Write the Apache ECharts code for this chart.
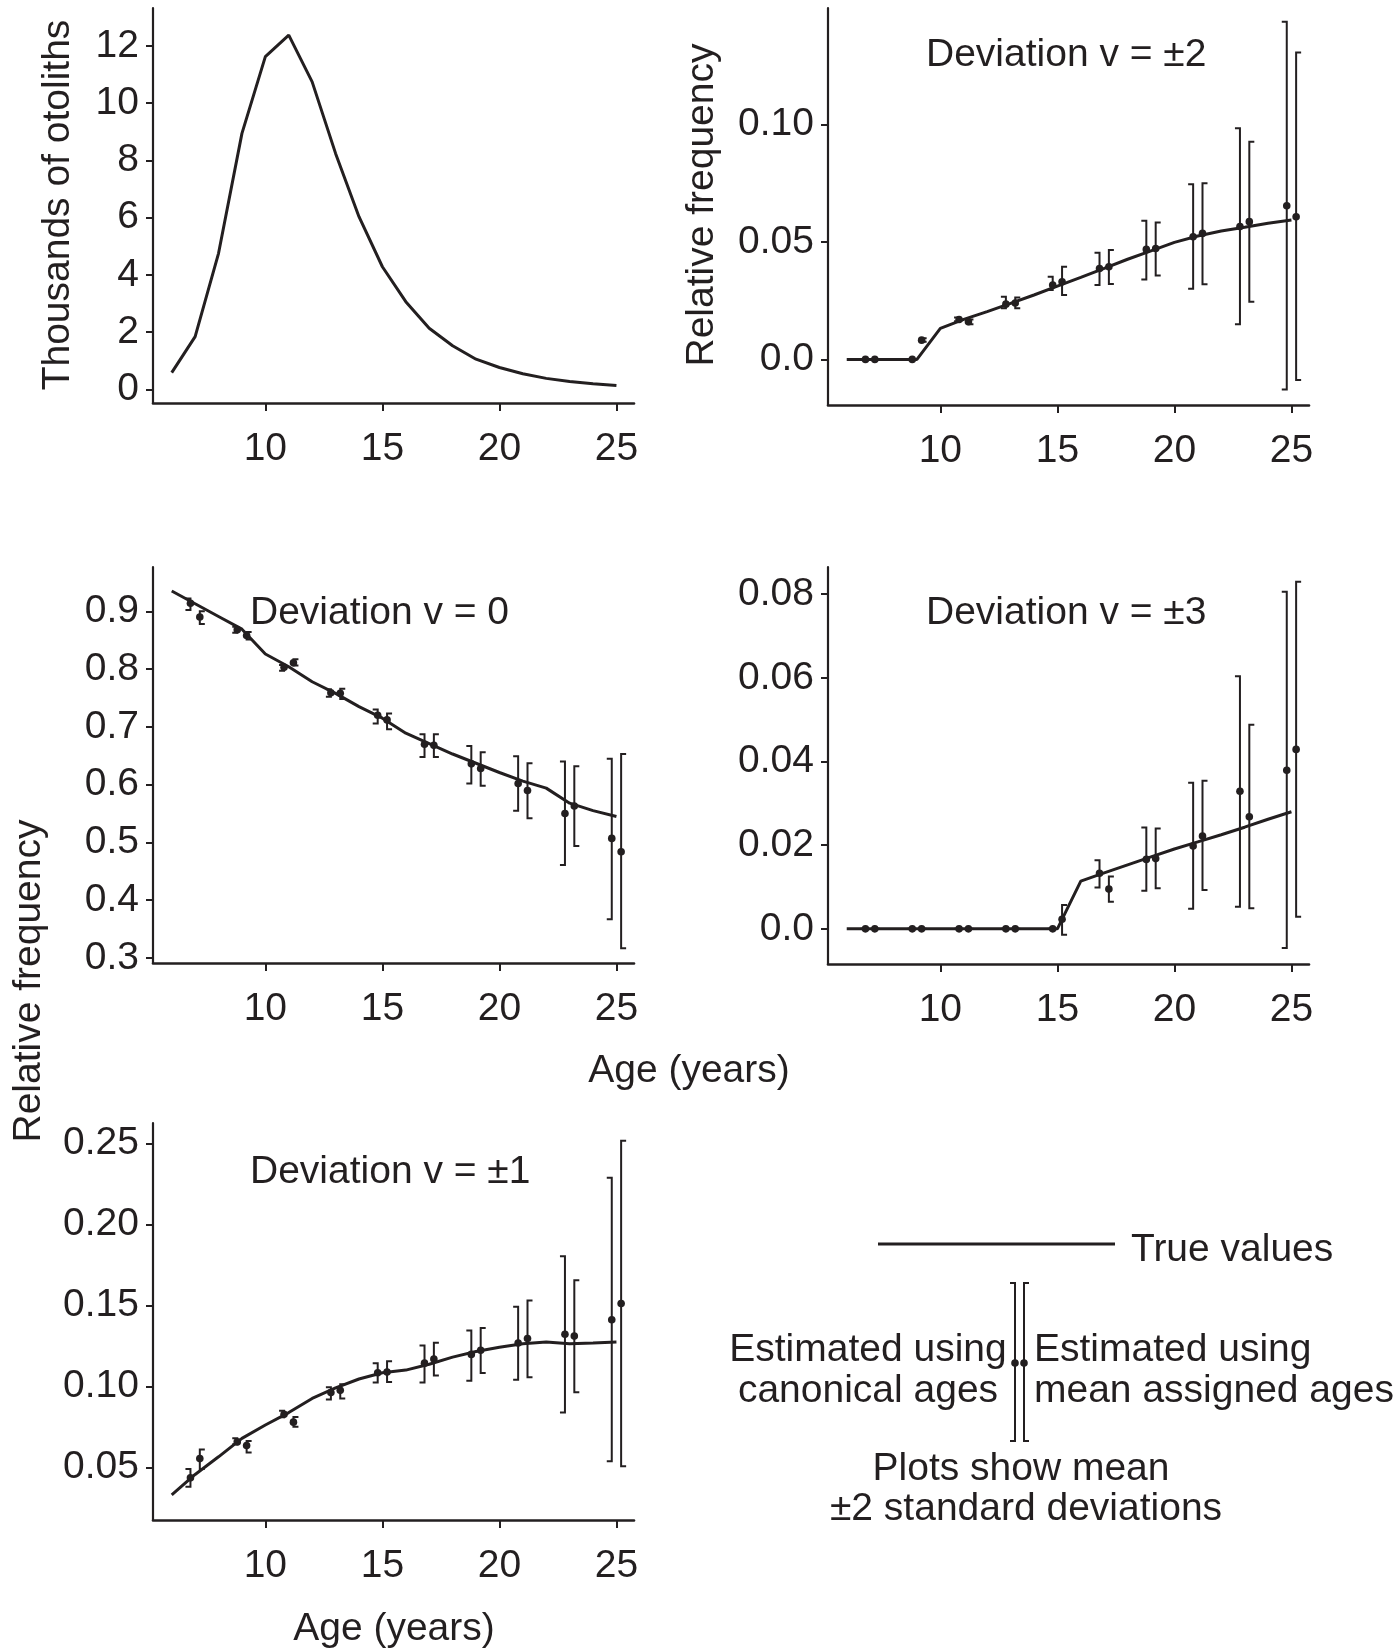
<!DOCTYPE html>
<html><head><meta charset="utf-8">
<script src="https://cdn.jsdelivr.net/npm/echarts@6/dist/echarts.min.js"></script>
<style>html,body{margin:0;padding:0;background:#fff}#c{width:1398px;height:1650px}</style>
</head><body><div id="c"></div>
<script>
// ---------- data ----------
const ages = [6,7,8,9,10,11,12,13,14,15,16,17,18,19,20,21,22,23,24,25];
const otoliths = [0.58,1.84,4.75,8.94,11.62,12.37,10.74,8.24,6.03,4.28,3.06,2.13,1.52,1.05,0.76,0.54,0.38,0.27,0.19,0.13];
const trueV2 = [0,0,0,0,0.0132,0.017,0.0203,0.0238,0.0274,0.0312,0.0349,0.0387,0.0426,0.0462,0.0498,0.0525,0.0546,0.0562,0.0579,0.0593];
const trueV0 = [0.935,0.913,0.891,0.869,0.826,0.804,0.778,0.758,0.735,0.715,0.689,0.671,0.653,0.637,0.621,0.606,0.594,0.568,0.555,0.545];
const trueV3 = [0,0,0,0,0,0,0,0,0,0,0.0114,0.0134,0.0153,0.0172,0.0191,0.0208,0.0225,0.0243,0.0262,0.028];
const trueV1 = [0.033,0.0456,0.0565,0.0679,0.0761,0.0838,0.0925,0.099,0.1045,0.1084,0.11,0.1136,0.118,0.1215,0.1241,0.1263,0.1273,0.1263,0.1267,0.1273];

const estAges = [7,9,11,13,15,17,19,21,23,25];
// v = ±2
const c2Mean = [0,0,0.017,0.0235,0.0316,0.0387,0.0468,0.0522,0.0565,0.0654];
const c2Low  = [0,0,0.0162,0.0218,0.0295,0.0316,0.034,0.0301,0.015,-0.0128];
const c2High = [0,0,0.0178,0.0267,0.0352,0.0454,0.059,0.0745,0.0983,0.1437];
const a2Mean = [0,0.0082,0.016,0.024,0.033,0.0394,0.0472,0.0536,0.0586,0.0607];
const a2Low  = [0,0.0075,0.015,0.0218,0.0274,0.0321,0.0357,0.032,0.0245,-0.0088];
const a2High = [0,0.009,0.017,0.0263,0.0394,0.0465,0.0582,0.0749,0.0926,0.1306];
// v = 0
const c0Mean = [0.914,0.868,0.803,0.759,0.72,0.67,0.636,0.602,0.55,0.507];
const c0Low  = [0.902,0.863,0.797,0.752,0.706,0.648,0.602,0.555,0.461,0.367];
const c0High = [0.922,0.873,0.807,0.765,0.73,0.687,0.667,0.649,0.64,0.645];
const a0Mean = [0.89,0.858,0.811,0.758,0.712,0.668,0.628,0.59,0.563,0.484];
const a0Low  = [0.878,0.851,0.806,0.748,0.696,0.648,0.598,0.542,0.494,0.317];
const a0High = [0.9,0.864,0.817,0.766,0.723,0.687,0.656,0.637,0.632,0.653];
// v = ±3
const c3Mean = [0,0,0,0,0,0.0133,0.0166,0.0198,0.0329,0.0379];
const c3Low  = [0,0,0,0,0,0.0099,0.0091,0.0048,0.0053,-0.0046];
const c3High = [0,0,0,0,0,0.0164,0.0242,0.0349,0.0604,0.0806];
const a3Mean = [0,0,0,0,0.0023,0.0095,0.0168,0.0222,0.0268,0.0429];
const a3Low  = [0,0,0,0,-0.0014,0.0065,0.0097,0.0093,0.0049,0.0029];
const a3High = [0,0,0,0,0.0057,0.0125,0.024,0.0354,0.0488,0.083];
// v = ±1
const c1Mean = [0.0435,0.0657,0.0827,0.0962,0.1084,0.1143,0.1197,0.1267,0.1321,0.1411];
const c1Low  = [0.038,0.0642,0.0809,0.0918,0.1023,0.1023,0.1034,0.104,0.0838,0.0537];
const c1High = [0.049,0.0679,0.0849,0.0995,0.1143,0.1252,0.1345,0.1491,0.1803,0.2287];
const a1Mean = [0.0554,0.0635,0.0779,0.0975,0.1088,0.1169,0.1223,0.1295,0.131,0.1511];
const a1Low  = [0.049,0.0592,0.075,0.0925,0.1027,0.1066,0.1082,0.1056,0.0964,0.0507];
const a1High = [0.061,0.0663,0.081,0.1012,0.1154,0.1269,0.136,0.153,0.1655,0.2515];

const xTicks = [10,15,20,25];
const yTicks1 = [0,2,4,6,8,10,12];      const yLabels1 = ['0','2','4','6','8','10','12'];
const yTicks2 = [0,0.05,0.10];          const yLabels2 = ['0.0','0.05','0.10'];
const yTicks0 = [0.3,0.4,0.5,0.6,0.7,0.8,0.9]; const yLabels0 = ['0.3','0.4','0.5','0.6','0.7','0.8','0.9'];
const yTicks3 = [0,0.02,0.04,0.06,0.08]; const yLabels3 = ['0.0','0.02','0.04','0.06','0.08'];
const yTicks5 = [0.05,0.10,0.15,0.20,0.25]; const yLabels5 = ['0.05','0.10','0.15','0.20','0.25'];

// ---------- style ----------
const C = '#231f20';
const F = '"Liberation Sans", Arial, Helvetica, sans-serif';
const FS = 39;
const OFF = 0.2;   // horizontal offset of the two estimates around each age
const SERIF = 5;

const grids = [
  {left:153, top:8,    width:481, height:395},
  {left:828, top:8,    width:481, height:397},
  {left:153, top:567,  width:481, height:396},
  {left:828, top:567,  width:481, height:397},
  {left:153, top:1123, width:481, height:397}
];
const yRanges = [[-0.48,13.32],[-0.0194,0.1495],[0.2914,0.9766],[-0.0084,0.0865],[0.0175,0.2625]];
const yT = [yTicks1,yTicks2,yTicks0,yTicks3,yTicks5];
const yL = [yLabels1,yLabels2,yLabels0,yLabels3,yLabels5];

const xAxes = grids.map((g,i)=>({
  gridIndex:i, type:'value', min:5.2, max:25.75,
  axisLine:{show:true,onZero:false,lineStyle:{color:C,width:2.6}},
  axisTick:{show:true,customValues:xTicks,length:8,lineStyle:{color:C,width:2}},
  axisLabel:{customValues:xTicks,fontSize:FS,color:C,fontFamily:F,margin:27},
  splitLine:{show:false}
}));
const yAxes = grids.map((g,i)=>({
  gridIndex:i, type:'value', min:yRanges[i][0], max:yRanges[i][1],
  axisLine:{show:true,onZero:false,lineStyle:{color:C,width:2.2}},
  axisTick:{show:true,customValues:yT[i],length:7,lineStyle:{color:C,width:2}},
  axisLabel:{customValues:yT[i],fontSize:FS,color:C,fontFamily:F,margin:14,
    formatter:(v)=>{const k=yT[i].findIndex(t=>Math.abs(t-v)<1e-9);return k>=0?yL[i][k]:'';}},
  splitLine:{show:false}
}));

function lineSeries(idx, vals){
  return {type:'line', xAxisIndex:idx, yAxisIndex:idx, symbol:'none', silent:true,
    data: ages.map((a,i)=>[a, vals[i]]), lineStyle:{color:C,width:3}, z:3};
}
function barData(mean,low,high,side){
  return estAges.map((a,i)=>[a, mean[i], low[i], high[i], side]);
}
function renderBar(params, api){
  const side = api.value(4);
  const x = api.value(0) + side*OFF;
  const pm = api.coord([x, api.value(1)]);
  const pl = api.coord([x, api.value(2)]);
  const ph = api.coord([x, api.value(3)]);
  const s = side; // -1: ']' serifs to the left, +1: '[' serifs to the right
  return {type:'group', children:[
    {type:'polyline', shape:{points:[[pl[0]+s*SERIF,ph[1]],[pl[0],ph[1]],[pl[0],pl[1]],[pl[0]+s*SERIF,pl[1]]]},
     style:{stroke:C,lineWidth:2,fill:null}},
    {type:'circle', shape:{cx:pm[0],cy:pm[1],r:3.8}, style:{fill:C}}
  ]};
}
function barSeries(idx, data){
  return {type:'custom', xAxisIndex:idx, yAxisIndex:idx, renderItem:renderBar, data:data,
    encode:{x:0,y:[1,2,3]}, clip:false, silent:true, z:4};
}

const series = [
  lineSeries(0, otoliths),
  lineSeries(1, trueV2), barSeries(1, barData(c2Mean,c2Low,c2High,-1)), barSeries(1, barData(a2Mean,a2Low,a2High,1)),
  lineSeries(2, trueV0), barSeries(2, barData(c0Mean,c0Low,c0High,-1)), barSeries(2, barData(a0Mean,a0Low,a0High,1)),
  lineSeries(3, trueV3), barSeries(3, barData(c3Mean,c3Low,c3High,-1)), barSeries(3, barData(a3Mean,a3Low,a3High,1)),
  lineSeries(4, trueV1), barSeries(4, barData(c1Mean,c1Low,c1High,-1)), barSeries(4, barData(a1Mean,a1Low,a1High,1))
];

function txt(s, x, y, size, align, rot){
  return {type:'text', x:x, y:y, rotation:rot||0,
    style:{text:s, fontSize:size, fontFamily:F, fill:C, textAlign:align||'left', textVerticalAlign:'middle'}};
}
const graphic = [
  txt('Thousands of otoliths', 58, 205, FS, 'center', Math.PI/2),
  txt('Relative frequency', 702, 205, FS, 'center', Math.PI/2),
  txt('Relative frequency', 29, 981, FS, 'center', Math.PI/2),
  txt('Age (years)', 689, 1071, FS, 'center'),
  txt('Age (years)', 394, 1629, FS, 'center'),
  txt('Deviation v = \u00b12', 926, 55, FS, 'left'),
  txt('Deviation v = 0', 250, 613, FS, 'left'),
  txt('Deviation v = \u00b13', 926, 613, FS, 'left'),
  txt('Deviation v = \u00b11', 250, 1172, FS, 'left'),
  {type:'line', shape:{x1:878,y1:1244,x2:1115,y2:1244}, style:{stroke:C,lineWidth:3}},
  txt('True values', 1131, 1250, FS, 'left'),
  {type:'polyline', shape:{points:[[1010,1283],[1015,1283],[1015,1441],[1010,1441]]}, style:{stroke:C,lineWidth:2,fill:null}},
  {type:'polyline', shape:{points:[[1029,1283],[1024,1283],[1024,1441],[1029,1441]]}, style:{stroke:C,lineWidth:2,fill:null}},
  {type:'circle', shape:{cx:1015,cy:1363,r:3.8}, style:{fill:C}},
  {type:'circle', shape:{cx:1024,cy:1363,r:3.8}, style:{fill:C}},
  txt('Estimated using', 868, 1350, FS, 'center'),
  txt('canonical ages', 868, 1391, FS, 'center'),
  txt('Estimated using', 1034, 1350, FS, 'left'),
  txt('mean assigned ages', 1034, 1391, FS, 'left'),
  txt('Plots show mean', 1021, 1469, FS, 'center'),
  txt('\u00b12 standard deviations', 1026, 1509, FS, 'center')
];

const chart = echarts.init(document.getElementById('c'), null, {renderer:'canvas'});
chart.setOption({
  animation:false, backgroundColor:'#fff',
  grid: grids, xAxis: xAxes, yAxis: yAxes, series: series, graphic: graphic
});
</script></body></html>
